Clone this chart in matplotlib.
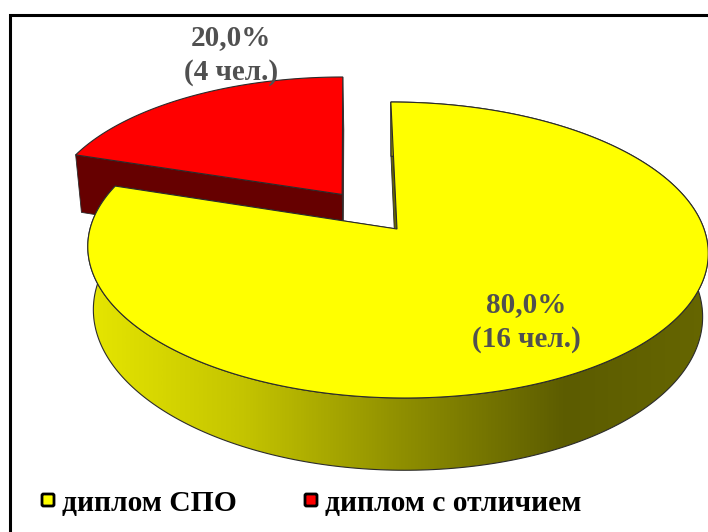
import numpy as np
import matplotlib
matplotlib.use("Agg")
import matplotlib.pyplot as plt
from matplotlib.colors import LinearSegmentedColormap
from matplotlib.patches import Polygon, FancyBboxPatch

# Данные
categories = ["диплом СПО", "диплом с отличием"]
shares = [80.0, 20.0]
counts = [16, 4]
top_colors = ["#ffff00", "#ff0000"]
side_colors = ["#666600", "#660000"]

W, H = 708, 532

# параметры 3D-проекции (в пикселях)
cx, cy = 397, 229
rx, ry = 307, 145
persp = 0.142
shear = -7
depth = 62
bottom_shrink = 0.982
first_angle = 90
explode = [0.0, 0.305]
radius = [1.0, 0.985]


def project(u, v, low=False):
    u = np.asarray(u, dtype=float)
    v = np.asarray(v, dtype=float)
    w = 1 + persp * v
    x = (rx * u + shear * v) / w
    y = cy - ry * v / w
    if low:
        x = x * bottom_shrink
        y = y + depth / w
    return np.column_stack([cx + x, y])


fig = plt.figure(figsize=(W / 100, H / 100), dpi=100)
ax = fig.add_axes([0, 0, 1, 1])
ax.set_xlim(0, W)
ax.set_ylim(H, 0)
ax.axis("off")

# углы секторов считаем из значений
sweeps = np.array(shares) / sum(shares) * 360
starts = first_angle - np.concatenate([[0], np.cumsum(sweeps)[:-1]])
ends = starts - sweeps

# градиент боковой стенки жёлтого сектора
wall_cmap = LinearSegmentedColormap.from_list(
    "wall",
    [(0.0, "#e6e600"), (0.25, "#c4c400"), (0.5, "#909000"),
     (0.77, "#5c5c00"), (1.0, "#666600")],
)

edge = "#2b2b2b"

# рисуем сначала дальний сектор, потом ближний
for i in [1, 0]:
    mid = np.radians((starts[i] + ends[i]) / 2)
    u0 = explode[i] * np.cos(mid)
    v0 = explode[i] * np.sin(mid)
    t = np.radians(np.linspace(starts[i], ends[i], 300))
    u = u0 + radius[i] * np.cos(t)
    v = v0 + radius[i] * np.sin(t)

    rim_top = project(u, v)
    rim_low = project(u, v, low=True)
    apex_top = project([u0], [v0])
    apex_low = project([u0], [v0], low=True)

    # срезы сектора
    cut_end = np.vstack([apex_top, rim_top[-1:], rim_low[-1:], apex_low])
    cut_start = np.vstack([apex_top, rim_top[:1], rim_low[:1], apex_low])
    ax.add_patch(Polygon(cut_end, closed=True, fc=side_colors[i], ec=edge, lw=0.6, zorder=2 + 3 * (1 - i)))
    ax.add_patch(Polygon(cut_start, closed=True, fc=side_colors[i], ec=edge, lw=0.6, zorder=2 + 3 * (1 - i)))

    # внешняя стенка
    band = np.vstack([rim_top, rim_low[::-1]])
    if i == 0:
        wall = Polygon(band, closed=True, fc="none", ec=edge, lw=0.8, zorder=3 + 3 * (1 - i))
        ax.add_patch(wall)
        grad = np.linspace(0, 1, 512).reshape(1, -1)
        im = ax.imshow(grad, cmap=wall_cmap, extent=[band[:, 0].min(), band[:, 0].max(), H, 0],
                       aspect="auto", zorder=2.5 + 3 * (1 - i), interpolation="bilinear")
        im.set_clip_path(Polygon(band, closed=True, transform=ax.transData))

    # верхняя грань
    top = np.vstack([apex_top, rim_top])
    ax.add_patch(Polygon(top, closed=True, fc=top_colors[i], ec=edge, lw=0.8, zorder=4 + 3 * (1 - i)))

ax.set_xlim(0, W)
ax.set_ylim(H, 0)

# рамка (видны только верх и левый край)
ax.plot([9.5, 9.5, W], [H, 14.5, 14.5], color="black", lw=2.2, solid_joinstyle="miter", zorder=10)

# подписи долей
label_pos = [(526, 322), (231, 55)]
for share, n, (lx, ly) in zip(shares, counts, label_pos):
    txt = f"{share:.1f}%".replace(".", ",") + f"\n({n} чел.)"
    ax.text(lx, ly, txt, ha="center", va="center", family="Liberation Serif",
            fontweight="bold", fontsize=21, color="#505050", linespacing=1.38, zorder=11)

# легенда
legend_x = [41, 304]
for x0, name, col in zip(legend_x, categories, top_colors):
    ax.add_patch(FancyBboxPatch((x0 + 1, 494), 12, 12, boxstyle="round,pad=0,rounding_size=1.5",
                                fc=col, ec="black", lw=2, zorder=11))
    ax.text(x0 + 21, 504, name, ha="left", va="center", family="Liberation Serif",
            fontweight="bold", fontsize=21.3, color="black", zorder=11)

fig.savefig("out.png", dpi=100)
